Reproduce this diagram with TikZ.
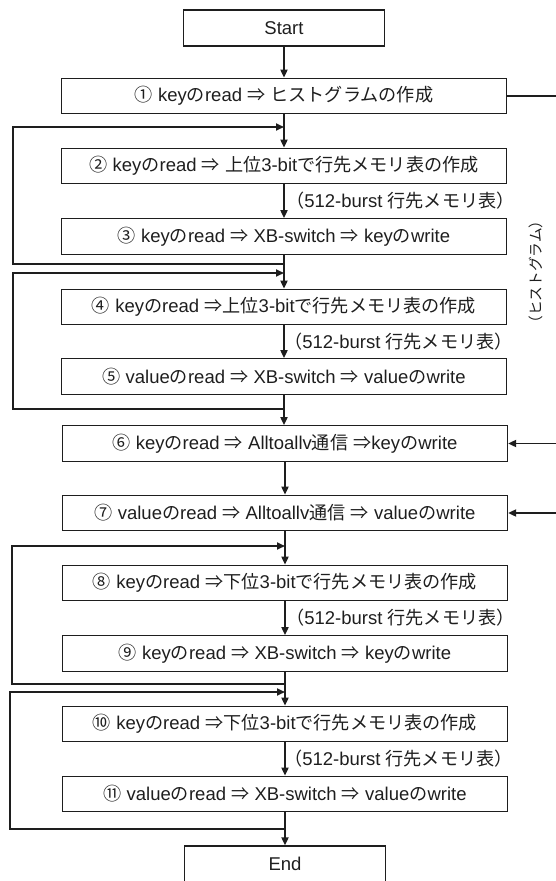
\documentclass[tikz,border=0pt]{standalone}
\usepackage{fontspec}
\setmainfont{Liberation Sans}
\newfontfamily\jp[Scale=0.98]{Noto Sans CJK JP}
\usetikzlibrary{arrows.meta}
\newcommand{\J}[1]{{\jp #1}}
\definecolor{ink}{HTML}{1E1E1E}
\tikzset{
  box/.style={draw=ink, line width=1.2pt, minimum width=445pt, minimum height=35.5pt, inner sep=0pt,
    text=ink, font=\fontsize{18.5}{20}\selectfont},
  termbox/.style={box, minimum width=201pt, minimum height=36pt},
  lab/.style={anchor=west, inner sep=0pt, text=ink, font=\fontsize{18.5}{20}\selectfont},
  conn/.style={draw=ink, line width=1.7pt},
  arr/.style={conn, -{Triangle[length=8pt,width=7pt]}}
}
\begin{document}
\begin{tikzpicture}[x=1pt,y=-1pt]
\path[use as bounding box] (0,0) rectangle (556,881);
\clip (0,0) rectangle (556,881);
% main column
\node[termbox] (start) at (284,28) {Start};
\node[box] (b1) at (284,96) {\J{①} key\J{の}read \J{⇒} \J{ヒストグラムの作成}};
\node[box] (b2) at (284,166) {\J{②} key\J{の}read \J{⇒} \J{上位}3-bit\J{で行先メモリ表の作成}};
\node[box] (b3) at (284,236.5) {\J{③} key\J{の}read \J{⇒} XB-switch \J{⇒} key\J{の}write};
\node[box] (b4) at (284,307) {\J{④} key\J{の}read \J{⇒上位}3-bit\J{で行先メモリ表の作成}};
\node[box] (b5) at (284,376.5) {\J{⑤} value\J{の}read \J{⇒} XB-switch \J{⇒} value\J{の}write};
\node[box] (b6) at (285,443.5) {\J{⑥} key\J{の}read \J{⇒} Alltoallv\J{通信} \J{⇒}key\J{の}write};
\node[box] (b7) at (285,513) {\J{⑦} value\J{の}read \J{⇒} Alltoallv\J{通信} \J{⇒} value\J{の}write};
\node[box] (b8) at (285,583) {\J{⑧} key\J{の}read \J{⇒下位}3-bit\J{で行先メモリ表の作成}};
\node[box] (b9) at (285,653.5) {\J{⑨} key\J{の}read \J{⇒} XB-switch \J{⇒} key\J{の}write};
\node[box] (b10) at (285,724) {\J{⑩} key\J{の}read \J{⇒下位}3-bit\J{で行先メモリ表の作成}};
\node[box] (b11) at (285,794) {\J{⑪} value\J{の}read \J{⇒} XB-switch \J{⇒} value\J{の}write};
\node[termbox] (end) at (285,864) {End};
% edge labels
\node[lab] (l1) at (286,201) {\J{（}512-burst \J{行先メモリ表）}};
\node[lab] (l2) at (284,342) {\J{（}512-burst \J{行先メモリ表）}};
\node[lab] (l3) at (286,618) {\J{（}512-burst \J{行先メモリ表）}};
\node[lab] (l4) at (284,759) {\J{（}512-burst \J{行先メモリ表）}};
\node[rotate=90, inner sep=0pt, text=ink, font=\fontsize{15}{16}\selectfont] (hist) at (536,272) {\J{（ヒストグラム）}};
% main connectors
\draw[arr] (start) -- (b1);
\draw[arr] (b1) -- (b2);
\draw[arr] (b2) -- (b3);
\draw[arr] (b3) -- (b4);
\draw[arr] (b4) -- (b5);
\draw[arr] (b5.south) -- (b6.north -| b5.south);
\draw[arr] (b6) -- (b7);
\draw[arr] (b7) -- (b8);
\draw[arr] (b8) -- (b9);
\draw[arr] (b9) -- (b10);
\draw[arr] (b10) -- (b11);
\draw[arr] (b11) -- (end);
% loop junction coordinates
\coordinate (j1) at (284,127);  \coordinate (r1) at (284,264);
\coordinate (j2) at (284,273);  \coordinate (r2) at (284,409);
\coordinate (j3) at (285,546);  \coordinate (r3) at (285,684);
\coordinate (j4) at (285,692);  \coordinate (r4) at (285,829);
\coordinate (c1a) at (13,264); \coordinate (c1b) at (13,127);
\coordinate (c2a) at (13,409); \coordinate (c2b) at (13,273);
\coordinate (c3a) at (12,684); \coordinate (c3b) at (12,546);
\coordinate (c4a) at (10,829); \coordinate (c4b) at (10,692);
\draw[arr] (r1) -- (c1a) -- (c1b) -- (j1);
\draw[arr] (r2) -- (c2a) -- (c2b) -- (j2);
\draw[arr] (r3) -- (c3a) -- (c3b) -- (j3);
\draw[arr] (r4) -- (c4a) -- (c4b) -- (j4);
% right side (histogram transfer)
\coordinate (h1) at (556,96);
\coordinate (h6) at (556,443.5);
\coordinate (h7) at (556,513);
\draw[conn] (b1.east) -- (h1);
\draw[arr] (h6) -- (b6.east);
\draw[arr] (h7) -- (b7.east);
\end{tikzpicture}
\end{document}
